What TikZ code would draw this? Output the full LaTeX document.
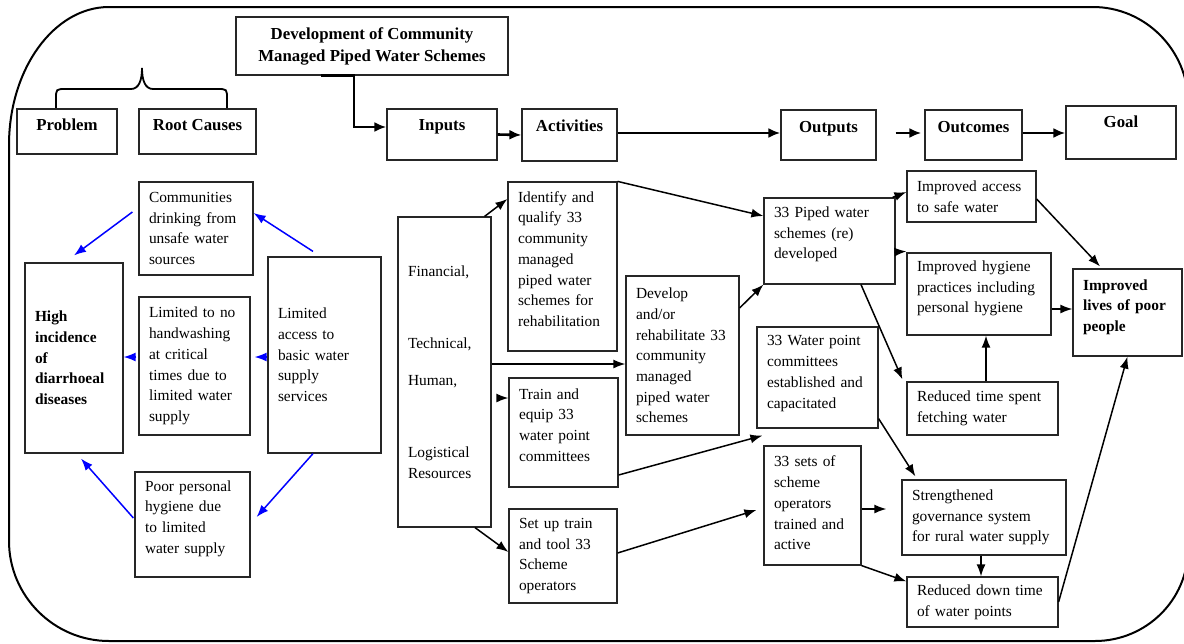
\documentclass[tikz,border=0pt]{standalone}
\usepackage{fontspec}
\setmainfont{Liberation Serif}
\usetikzlibrary{arrows.meta}
\newcommand\bodyfont{\fontsize{15.4pt}{20.7pt}\selectfont}
\newcommand\headfont{\fontsize{16.8pt}{22pt}\selectfont\bfseries}
\newcommand\upby[1]{\par\kern#1pt}
\begin{document}
\begin{tikzpicture}[x=1pt,y=-1pt,
  box/.style={draw=black!85, line width=1.2pt, inner xsep=10pt, inner ysep=0pt, font=\bodyfont, align=left},
  hbox/.style={draw=black!85, line width=1.2pt, inner sep=0pt, font=\headfont, align=center},
  conn/.style={line width=1.5pt, -{Latex[length=12pt,width=9pt]}},
  bconn/.style={line width=1.5pt, blue, -{Latex[length=12pt,width=9pt]}},
  mainarrow/.style={line width=2.6pt, -{Latex[length=12pt,width=10pt]}}]
\useasboundingbox (0,0) rectangle (1184,643);
% outer frame
\draw[line width=2pt] (109,7) -- (1093,7) .. controls (1145,7) and (1188,50) .. (1188,102)
  -- (1188,549) .. controls (1188,600) and (1146,641) .. (1095,641)
  -- (109,641) .. controls (54,641) and (9,596) .. (9,541)
  -- (9,145) .. controls (9,69) and (54,7) .. cycle;
% brace
\draw[line width=1.8pt] (56,109) -- (56,99) .. controls (56,89) .. (66,89) -- (131,89)
  .. controls (139,89) and (142,80) .. (142,68) .. controls (142,80) and (145,89) .. (153,89)
  -- (217,89) .. controls (227,89) .. (227,99) -- (227,109);
% header boxes
\node[hbox, minimum width=272pt, minimum height=58pt] (dev) at (372,46) {Development of Community\\Managed Piped Water Schemes};
\node[hbox, minimum width=100pt, minimum height=45pt, text height=11.5pt, text depth=14.5pt] (prob) at (67,131.5) {Problem};
\node[hbox, minimum width=117pt, minimum height=45pt, text height=11.5pt, text depth=13pt] (root) at (197.5,131.5) {Root Causes};
\node[hbox, minimum width=110pt, minimum height=51pt, text height=11.5pt, text depth=20.5pt] (inputs) at (442,134.5) {Inputs};
\node[hbox, minimum width=95pt, minimum height=52pt, text height=11.5pt, text depth=19.5pt] (acts) at (569.5,135) {Activities};
\node[hbox, minimum width=95pt, minimum height=50pt, text height=11.5pt, text depth=17.5pt] (outs) at (828.5,135) {Outputs};
\node[hbox, minimum width=97pt, minimum height=50pt, text height=11.5pt, text depth=17.5pt] (outc) at (973.5,135) {Outcomes};
\node[hbox, minimum width=110pt, minimum height=53pt, text height=11.5pt, text depth=22.5pt] (goal) at (1121,132.5) {Goal};
% problem tree
\node[box, text width=78pt, minimum height=190pt, font=\bodyfont\bfseries] (high) at (74,358) {High\\incidence\\of\\diarrhoeal\\diseases};
\node[box, text width=94pt, minimum height=93pt] (comm) at (196,228.5) {Communities\\drinking from\\unsafe water\\sources};
\node[box, text width=91pt, minimum height=138pt] (hand) at (194.5,366) {Limited to no\\handwashing\\at critical\\times due to\\limited water\\supply};
\node[box, text width=93pt, minimum height=196pt] (access) at (324.5,355) {Limited\\access to\\basic water\\supply\\services};
\node[box, text width=95pt, minimum height=105pt] (poor) at (192.5,524.5) {Poor personal\\hygiene due\\to limited\\water supply\upby{12}};
% inputs and activities
\node[box, text width=73pt, minimum height=310pt] (fin) at (444.5,372) {Financial,\\[51.3pt]Technical,\\[16.3pt]Human,\\[51.3pt]Logistical\\Resources};
\node[box, text width=89pt, minimum height=169pt] (iden) at (562.5,266.5) {Identify and\\qualify 33\\community\\managed\\piped water\\schemes for\\rehabilitation\upby{15}};
\node[box, text width=93pt, minimum height=159pt] (devl) at (682.5,355.5) {Develop\\and/or\\rehabilitate 33\\community\\managed\\piped water\\schemes};
\node[box, text width=89pt, minimum height=109pt] (train) at (563.5,432.5) {Train and\\equip 33\\water point\\committees\upby{15}};
\node[box, text width=88pt, minimum height=94pt] (setup) at (563,556) {Set up train\\and tool 33\\Scheme\\operators};
% outputs
\node[box, text width=111pt, minimum height=86pt] (piped) at (829.5,241) {33 Piped water\\schemes (re)\\developed\upby{13}};
\node[box, text width=101pt, minimum height=101pt] (wpc) at (817.5,377.5) {33 Water point\\committees\\established and\\capacitated\upby{8}};
\node[box, text width=77pt, minimum height=119pt] (sets) at (812.5,505.5) {33 sets of\\scheme\\operators\\trained and\\active\upby{5}};
% outcomes
\node[box, text width=109pt, minimum height=51pt] (acc) at (971.5,196.5) {Improved access\\to safe water};
\node[box, text width=124pt, minimum height=82pt] (hyg) at (979,294) {Improved hygiene\\practices including\\personal hygiene\upby{11}};
\node[box, text width=131pt, minimum height=53pt] (rtime) at (982.5,408.5) {Reduced time spent\\fetching water};
\node[box, text width=144pt, minimum height=75pt] (gov) at (984,517.5) {Strengthened\\governance system\\for rural water supply};
\node[box, text width=131pt, minimum height=50pt] (rdown) at (982.5,602) {Reduced down time\\of water points};
\node[box, text width=89pt, minimum height=87pt, font=\bodyfont\bfseries] (lives) at (1127.5,312.5) {Improved\\lives of poor\\people\upby{11}};
% main chain
\draw[mainarrow] ([xshift=-51pt]dev.south) -- ([xshift=-18pt]dev.south) |- ([yshift=7.5pt]inputs.west);
\draw[mainarrow] (inputs.east) -- (acts.west);
\draw[mainarrow] ([yshift=2pt]acts.east) -- ([yshift=2pt]outs.west);
\draw[mainarrow, shorten <=19pt, shorten >=3pt] ([yshift=2pt]outs.east) -- ([yshift=2pt]outc.west);
\draw[mainarrow] ([yshift=2pt]outc.east) -- ([yshift=-0.5pt]goal.west);
% blue arrows
\draw[bconn] ([xshift=-6pt,yshift=16.5pt]comm.west) -- ([yshift=7pt]high.north);
\draw[bconn] ([xshift=-11.5pt,yshift=5pt]access.north) -- ([yshift=15.5pt]comm.east);
\draw[bconn] ([xshift=-2pt,yshift=9pt]hand.west) -- ([yshift=1pt]high.east);
\draw[bconn] ([yshift=-2pt]access.west) -- ([xshift=4pt,yshift=9pt]hand.east);
\draw[bconn] ([xshift=-1pt,yshift=6.5pt]poor.west) -- ([xshift=7pt,yshift=-5pt]high.south);
\draw[bconn] ([xshift=-11.5pt]access.south) -- ([xshift=6pt,yshift=7.5pt]poor.east);
% black connectors
\draw[conn] ([xshift=-7pt]fin.north east) -- ([yshift=67.5pt]iden.west);
\draw[conn] ([yshift=8pt]fin.east) -- ([yshift=-8.5pt]devl.west);
\draw[conn] ([xshift=7pt,yshift=-26pt]fin.east) -- ([yshift=34.5pt]train.west);
\draw[conn] ([xshift=30.5pt]fin.south) -- ([yshift=4pt]setup.west);
\draw[conn] (iden.north east) -- ([yshift=25pt]piped.west);
\draw[conn] ([yshift=47.5pt]devl.east) -- (piped.south west);
\draw[conn] ([yshift=-42.5pt]train.east) -- ([xshift=6pt,yshift=-7pt]wpc.south west);
\draw[conn] ([yshift=3pt]setup.east) -- ([xshift=-7pt,yshift=-4.5pt]sets.west);
\draw[conn] ([xshift=-3pt]piped.north east) -- ([yshift=4.5pt]acc.west);
\draw[conn] ([yshift=-11pt]piped.east) -- ([yshift=1pt]hyg.north west);
\draw[conn] ([yshift=-2.5pt]acc.east) -- ([xshift=-27.5pt,yshift=2pt]lives.north);
\draw[conn] ([yshift=-15pt]hyg.east) -- ([yshift=3.5pt]lives.west);
\draw[conn] ([xshift=3.5pt]rtime.north) -- ([xshift=7pt]hyg.south);
\draw[conn] ([xshift=31.5pt]piped.south) -- ([xshift=-4pt,yshift=2pt]rtime.north west);
\draw[conn] ([yshift=10pt]wpc.south east) -- ([xshift=14pt,yshift=3pt]gov.north west);
\draw[conn] ([yshift=-3.5pt]sets.east) -- ([xshift=-15pt,yshift=8.5pt]gov.west);
\draw[conn] ([xshift=-3pt]gov.south) -- ([xshift=-1.5pt]rdown.north);
\draw[conn] (sets.south east) -- ([yshift=-5pt]rdown.north west);
\draw[conn] (rdown.east) -- (lives.south);
\end{tikzpicture}
\end{document}
